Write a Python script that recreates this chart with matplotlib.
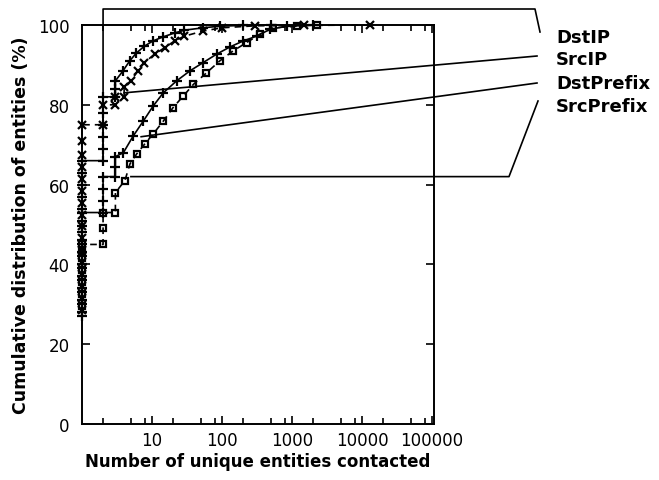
import matplotlib
matplotlib.use("Agg")
import matplotlib.pyplot as plt
from matplotlib.lines import Line2D
from matplotlib.ticker import NullFormatter
import numpy as np

# CDF points (x = entities contacted, y = cumulative %)
dstip_x = [1, 1, 1, 1, 1, 1, 1, 1, 1, 1, 1, 1, 1, 1,
           2, 2, 2, 2, 2, 2, 3, 3, 3, 3.85, 4.8, 6, 7.8, 10.3, 14.3, 21, 29, 54, 93, 200, 500]
dstip_y = [27, 30, 33, 36, 39, 42, 45, 48, 51, 54, 57, 60, 63, 66,
           66, 69, 72, 75, 78, 82, 82, 84, 86, 88.5, 91, 93, 94.7, 96, 97, 98, 98.7, 99.3, 99.7, 99.9, 100]

srcip_x = [1, 1, 1, 1, 1, 1, 1, 1, 1, 1, 1, 1, 1, 1, 1, 1,
           2, 2, 3, 3, 4, 4, 5, 6.3, 7.8, 10.9, 15.1, 21, 29, 54, 100, 300, 1500, 13000]
srcip_y = [28.5, 31.5, 34.5, 37.5, 40.5, 43.5, 46.5, 49.5, 52.5, 55.5, 58.5, 61.5, 64.5, 67.5, 71, 75,
           75, 80, 80, 82, 82, 84.5, 86, 88.5, 90.6, 92.7, 94.3, 96, 97.2, 98.5, 99.3, 99.8, 99.9, 100]

dstpfx_x = [1, 1, 1, 1, 1, 1, 1, 1, 1,
            2, 2, 2, 2, 3, 3, 3, 3.9, 5.4, 7.5, 10.4, 14.5, 22.5, 34.8, 54, 84, 130, 201, 312, 484, 840, 2000]
dstpfx_y = [28, 31, 34, 37, 40, 43, 46, 49.5, 53,
            53, 56, 59, 62, 62, 64.5, 67, 68, 72.2, 75.9, 79.7, 83, 86, 88.5, 90.6, 92.7, 94.5, 96, 97.2, 98.9, 99.7, 100]

srcpfx_x = [1, 1, 1, 1, 1, 1, 1,
            2, 2, 2, 3, 3, 4.1, 4.85, 6.05, 7.9, 10.4, 14.5, 20, 28, 39, 60, 93, 144, 225, 350, 540, 1170, 2270]
srcpfx_y = [29.5, 32.5, 35.5, 38.5, 41.5, 43.5, 45,
            45, 49, 53, 53, 58, 61, 65.2, 67.7, 70.2, 72.7, 75.9, 79.3, 82.2, 85.1, 88, 91, 93.5, 95.6, 97.7, 99.3, 99.7, 100]

labels = ["DstIP", "SrcIP", "DstPrefix", "SrcPrefix"]
# where each legend leader line touches its curve (data coords)
anchor_x = [2, 4, 7, 5]
anchor_y = [66, 83, 72, 62]

W, H = 659, 481
fig = plt.figure(figsize=(W / 100, H / 100), dpi=100)
ax = fig.add_axes([82 / W, 56 / H, 352 / W, 399 / H])

series = [
    (dstip_x, dstip_y, "+", "-", 7),
    (srcip_x, srcip_y, "x", (0, (4, 3)), 5.5),
    (dstpfx_x, dstpfx_y, "+", "-", 6.5),
    (srcpfx_x, srcpfx_y, "s", (0, (4, 3)), 5),
]
for xs, ys, mk, ls, ms in series:
    ax.plot(xs, ys, color="black", linestyle=ls, linewidth=1.2, marker=mk,
            markersize=ms, markerfacecolor="none", markeredgewidth=1.6, clip_on=False)

ax.set_xscale("log")
ax.set_xlim(1, 1.07e5)
ax.set_ylim(0, 100)
ax.set_xticks([10, 100, 1000, 10000, 100000])
ax.set_xticklabels(["10", "100", "1000", "10000", "100000"])
minor = [m * 10 ** d for d in range(0, 5) for m in (2, 5, 8)]
ax.set_xticks(minor, minor=True)
ax.xaxis.set_minor_formatter(NullFormatter())
ax.set_yticks([0, 20, 40, 60, 80, 100])
ax.tick_params(which="both", direction="in", top=True, right=True, width=1.2,
               labelsize=12, color="black")
ax.tick_params(which="major", length=6)
ax.tick_params(which="minor", length=4)
ax.tick_params(axis="y", pad=9)
ax.tick_params(axis="x", pad=5)
for s in ax.spines.values():
    s.set_linewidth(1.4)

ax.set_xlabel("Number of unique entities contacted", fontsize=12, fontweight="bold", labelpad=2)
ax.set_ylabel("Cumulative distribution of entities (%)", fontsize=12.5, fontweight="bold", labelpad=6)

# legend labels on the right with leader lines to the curves
label_y = [38, 60, 84, 107]
for lab, ly in zip(labels, label_y):
    fig.text(556 / W, 1 - ly / H, lab, fontsize=13, fontweight="bold", va="center", ha="left")

inv = fig.transFigure.inverted()


def pix(px, py):
    return inv.transform((px, H - py))


def anc(i):
    return inv.transform(ax.transData.transform((anchor_x[i], anchor_y[i])))


a0 = anc(0)
a3 = anc(3)
paths = [
    [pix(540, 33), pix(535, 10), (a0[0], pix(0, 10)[1]), a0],
    [pix(537, 57), anc(1)],
    [pix(537, 84), anc(2)],
    [pix(538, 102), (pix(509, 0)[0], a3[1]), a3],
]
for p in paths:
    p = np.array(p)
    fig.add_artist(Line2D(p[:, 0], p[:, 1], color="black", linewidth=1.2,
                          transform=fig.transFigure))

fig.savefig("out.png", dpi=100)
